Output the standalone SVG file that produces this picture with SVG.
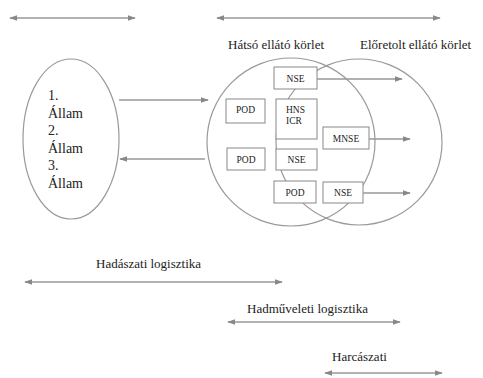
<svg xmlns="http://www.w3.org/2000/svg" width="483" height="378" viewBox="0 0 483 378">
<defs>
<style>
text{font-family:"Liberation Serif","Times New Roman","DejaVu Serif",serif;fill:#222}
.lbl{font-size:13px}
.st{font-size:14px}
.bx{font-size:9.5px}
.box{fill:#fff;stroke:#888;stroke-width:1}
.sh{fill:none;stroke:#999;stroke-width:1.2}
.ln{stroke:#999;stroke-width:1.5;fill:none}
</style>
<marker id="ae" viewBox="0 0 10 10" refX="9" refY="5" markerWidth="8" markerHeight="8" orient="auto" markerUnits="userSpaceOnUse">
<path d="M0,1.5 L10,5 L0,8.5 z" fill="#888"/>
</marker>
<marker id="as" viewBox="0 0 10 10" refX="1" refY="5" markerWidth="8" markerHeight="8" orient="auto" markerUnits="userSpaceOnUse">
<path d="M10,1.5 L0,5 L10,8.5 z" fill="#888"/>
</marker>
</defs>
<rect width="483" height="378" fill="#fff"/>
<g id="circles">
<circle class="sh" cx="359" cy="142" r="83"/>
<circle class="sh" cx="291" cy="142" r="84"/>
</g>
<g id="allamok">
<ellipse class="sh" cx="71" cy="139" rx="48" ry="80"/>
<text class="st" x="48" y="100">1.</text>
<text class="st" x="48" y="118">Állam</text>
<text class="st" x="48" y="135">2.</text>
<text class="st" x="48" y="153">Állam</text>
<text class="st" x="48" y="170">3.</text>
<text class="st" x="48" y="188">Állam</text>
</g>
<g id="label-hatso"><text class="lbl" x="228" y="49">Hátsó ellátó körlet</text></g>
<g id="label-eloretolt"><text class="lbl" x="360" y="49">Előretolt ellátó körlet</text></g>
<g id="nse1"><rect class="box" x="274" y="67" width="43" height="22"/><text class="bx" x="295.5" y="81.5" text-anchor="middle">NSE</text></g>
<g id="pod1"><rect class="box" x="226" y="99" width="39" height="24"/><text class="bx" x="236" y="113">POD</text></g>
<g id="hns"><rect class="box" x="276" y="99" width="41" height="40"/><text class="bx" x="286" y="113">HNS</text><text class="bx" x="286" y="124">ICR</text></g>
<g id="mnse"><rect class="box" x="323" y="127" width="46" height="22"/><text class="bx" x="346" y="141.5" text-anchor="middle">MNSE</text></g>
<g id="pod2"><rect class="box" x="227" y="148" width="38" height="22"/><text class="bx" x="246" y="162.5" text-anchor="middle">POD</text></g>
<g id="nse2"><rect class="box" x="276" y="149" width="41" height="21"/><text class="bx" x="296.5" y="163" text-anchor="middle">NSE</text></g>
<g id="pod3"><rect class="box" x="274" y="181" width="42" height="22"/><text class="bx" x="295" y="195.5" text-anchor="middle">POD</text></g>
<g id="nse3"><rect class="box" x="323" y="182" width="40" height="21"/><text class="bx" x="343" y="196" text-anchor="middle">NSE</text></g>
<g id="label-hadaszati"><text class="lbl" x="96" y="268">Hadászati logisztika</text></g>
<g id="label-hadmuveleti"><text class="lbl" x="247" y="313">Hadműveleti logisztika</text></g>
<g id="label-harcaszati"><text class="lbl" x="332" y="361">Harcászati</text></g>
<g id="connectors">
<line class="ln" x1="10" y1="18" x2="135" y2="18" marker-start="url(#as)" marker-end="url(#ae)"/>
<line class="ln" x1="217" y1="18" x2="440" y2="18" marker-start="url(#as)" marker-end="url(#ae)"/>
<line class="ln" x1="119" y1="100" x2="208" y2="100" marker-end="url(#ae)"/>
<line class="ln" x1="205" y1="159" x2="120" y2="159" marker-end="url(#ae)"/>
<line class="ln" x1="317" y1="79" x2="402" y2="79" marker-end="url(#ae)"/>
<line class="ln" x1="369" y1="139" x2="410" y2="139" marker-end="url(#ae)"/>
<line class="ln" x1="363" y1="193" x2="410" y2="193" marker-end="url(#ae)"/>
<line class="ln" x1="25" y1="282" x2="282" y2="282" marker-start="url(#as)" marker-end="url(#ae)"/>
<line class="ln" x1="228" y1="322" x2="400" y2="322" marker-start="url(#as)" marker-end="url(#ae)"/>
<line class="ln" x1="325" y1="373" x2="442" y2="373" marker-start="url(#as)" marker-end="url(#ae)"/>
</g>
</svg>
